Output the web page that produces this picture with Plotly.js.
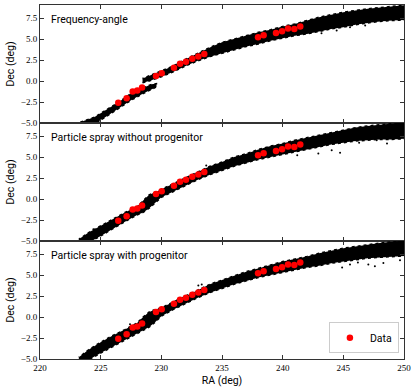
<!DOCTYPE html>
<html>
<head>
<meta charset="utf-8">
<script src="https://cdn.plot.ly/plotly-3.0.1.min.js"></script>
<style>
  html, body { margin: 0; padding: 0; background: #fff; }
  #chart { width: 416px; height: 389px; }
</style>
</head>
<body>
<div id="chart"></div>
<script>
// observed stream track (red points)
const dataRa = [226.45, 227.14, 227.64, 228.02, 228.41, 229.56, 230.03, 231.04, 231.54, 232.03,
  232.55, 233.05, 233.54, 237.97, 238.43, 239.45, 239.95, 240.44, 240.96, 241.45];
const dataDec = [-2.6, -2.05, -1.25, -1.12, -0.78, 0.6, 0.93, 1.58, 2.06, 2.3,
  2.65, 2.93, 3.22, 5.22, 5.45, 5.72, 5.93, 6.24, 6.2, 6.48];
const dataErr = [0.15, 0.15, 0.15, 0.15, 0.15, 0.15, 0.15, 0.15, 0.15, 0.15,
  0.15, 0.15, 0.15, 0.15, 0.15, 0.15, 0.15, 0.15, 0.15, 0.15];

// frequency-angle model: two pieces of the stream (RA, lower / upper Dec edge)
const faLeadRa = [223.3, 224.5, 225.5, 226.5, 227.5, 228.5, 229.2, 229.6];
const faLeadLo = [-5.7, -5.1, -4.2, -3.2, -2.3, -1.5, -1.0, -0.7];
const faLeadHi = [-4.9, -4.3, -3.4, -2.5, -1.5, -0.8, -0.4, -0.3];
const faTrailRa = [228.45, 229, 230, 231, 232, 233, 234, 235, 236, 237, 238, 239,
  240, 241, 242, 243, 244, 245, 246, 247, 248, 249, 250.5];
const faTrailLo = [-0.2, 0.0, 0.5, 1.1, 1.8, 2.4, 2.9, 3.3, 3.7, 4.1, 4.4, 4.8,
  5.1, 5.4, 5.6, 5.9, 6.2, 6.4, 6.7, 6.9, 7.1, 7.2, 7.3];
const faTrailHi = [0.3, 0.6, 1.2, 1.8, 2.6, 3.3, 4.0, 4.6, 5.0, 5.4, 5.8, 6.1,
  6.5, 6.8, 7.2, 7.6, 7.9, 8.2, 8.4, 8.6, 8.8, 8.9, 9.1];
const faOutRa = [244.45, 245.55, 243.2, 246.8];
const faOutDec = [6.0, 6.4, 5.7, 6.6];

// particle spray without progenitor
const spRa = [223.2, 224, 225, 226, 227, 228, 228.5, 229, 229.5, 230, 231, 232, 233, 234,
  235, 236, 237, 238, 239, 240, 241, 242, 243, 244, 245, 246, 247, 248, 249, 250.5];
const spLo = [-5.6, -5.2, -4.4, -3.5, -2.7, -1.9, -1.6, -1.1, -0.4, 0.2, 0.9, 1.6, 2.3, 2.9,
  3.4, 3.9, 4.3, 4.7, 5.0, 5.3, 5.6, 5.9, 6.2, 6.5, 6.7, 6.9, 7.0, 7.1, 7.1, 7.2];
const spHi = [-4.8, -4.0, -3.2, -2.4, -1.6, -0.9, -0.2, 0.5, 0.8, 1.1, 1.8, 2.5, 3.2, 3.9,
  4.4, 5.0, 5.4, 5.9, 6.3, 6.6, 7.0, 7.3, 7.6, 7.9, 8.2, 8.5, 8.7, 8.9, 9.0, 9.2];
const spOutRa = [242.94, 244.04, 244.73, 247.75, 249.67, 241.2, 224.4, 233.7, 248.6, 246.3];
const spOutDec = [5.42, 5.81, 5.5, 7.0, 7.2, 5.2, -3.6, 4.0, 6.6, 6.7];

// particle spray with progenitor
const sppRa = [223.2, 224, 225, 226, 227, 228, 228.5, 229, 229.5, 230, 231, 232, 233, 234,
  235, 236, 237, 238, 239, 240, 241, 242, 243, 244, 245, 246, 247, 248, 249, 250.5];
const sppLo = [-5.6, -5.1, -4.3, -3.5, -2.7, -1.9, -1.6, -1.2, -0.6, 0.1, 0.9, 1.6, 2.3, 2.9,
  3.4, 3.9, 4.3, 4.7, 5.0, 5.3, 5.6, 5.9, 6.1, 6.4, 6.6, 6.8, 7.0, 7.1, 7.2, 7.3];
const sppHi = [-4.8, -3.9, -3.0, -2.2, -1.5, -0.7, 0.0, 0.6, 0.9, 1.1, 1.8, 2.5, 3.2, 3.9,
  4.4, 4.9, 5.4, 5.8, 6.2, 6.6, 6.9, 7.2, 7.6, 7.9, 8.2, 8.4, 8.6, 8.8, 9.0, 9.2];
const sppOutRa = [247.06, 247.6, 248.3, 249.67, 245.55, 246.2, 233.05, 233.33, 227.42, 244.9];
const sppOutDec = [6.24, 6.04, 6.44, 6.75, 6.24, 6.5, 3.76, 3.88, -0.86, 5.9];

const panelTitles = ["Frequency-angle", "Particle spray without progenitor", "Particle spray with progenitor"];
const xTicks = [220, 225, 230, 235, 240, 245, 250];
const yTicks = [-5, -2.5, 0, 2.5, 5, 7.5];

function bandTrace(ra, lo, hi, xa, ya) {
  return {
    type: "scatter",
    mode: "lines",
    x: ra.concat(ra.slice().reverse()),
    y: lo.concat(hi.slice().reverse()),
    fill: "toself",
    fillcolor: "#000",
    line: { color: "#000", width: 1.5, dash: "dot" },
    hoverinfo: "skip",
    showlegend: false,
    xaxis: xa,
    yaxis: ya,
  };
}

function outlierTrace(ra, dec, xa, ya) {
  return {
    type: "scatter",
    mode: "markers",
    x: ra,
    y: dec,
    marker: { size: 2, color: "#000" },
    hoverinfo: "skip",
    showlegend: false,
    xaxis: xa,
    yaxis: ya,
  };
}

function dataTrace(xa, ya, show) {
  return {
    type: "scatter",
    mode: "markers",
    name: "Data",
    x: dataRa,
    y: dataDec,
    error_y: { type: "data", array: dataErr, color: "#ff0000", thickness: 1.5, width: 0 },
    marker: { size: 6.5, color: "#ff0000" },
    showlegend: show,
    xaxis: xa,
    yaxis: ya,
  };
}

const traces = [
  bandTrace(faLeadRa, faLeadLo, faLeadHi, "x", "y"),
  bandTrace(faTrailRa, faTrailLo, faTrailHi, "x", "y"),
  outlierTrace(faOutRa, faOutDec, "x", "y"),
  dataTrace("x", "y", false),
  bandTrace(spRa, spLo, spHi, "x2", "y2"),
  outlierTrace(spOutRa, spOutDec, "x2", "y2"),
  dataTrace("x2", "y2", false),
  bandTrace(sppRa, sppLo, sppHi, "x3", "y3"),
  outlierTrace(sppOutRa, sppOutDec, "x3", "y3"),
  dataTrace("x3", "y3", true),
];

const tickFont = { family: "Liberation Serif, DejaVu Serif, serif", size: 9, color: "#000" };
const labelFont = { family: "Roboto, Lato, sans-serif", size: 10.5, color: "#000" };

function xAxis(anchor, showLabels) {
  return {
    range: [220, 250],
    anchor: anchor,
    tickvals: xTicks,
    ticks: "inside",
    ticklen: 4,
    tickcolor: "#333",
    showticklabels: showLabels,
    tickfont: tickFont,
    showgrid: false,
    zeroline: false,
    showline: true,
    linecolor: "#333",
    linewidth: 1,
    mirror: "ticks",
  };
}

function yAxis(anchor, domain) {
  return {
    range: [-5, 9.05],
    domain: domain,
    anchor: anchor,
    tickvals: yTicks,
    tickformat: ".1f",
    ticks: "inside",
    ticklen: 4,
    tickcolor: "#333",
    tickfont: tickFont,
    showgrid: false,
    zeroline: false,
    showline: true,
    linecolor: "#333",
    linewidth: 1,
    mirror: "ticks",
    title: { text: "Dec (deg)", font: labelFont, standoff: 4 },
  };
}

const layout = {
  width: 416,
  height: 389,
  margin: { l: 40, r: 12, t: 5, b: 30 },
  paper_bgcolor: "#fff",
  plot_bgcolor: "#fff",
  showlegend: true,
  legend: {
    x: 0.986, y: 0.016, xanchor: "right", yanchor: "bottom",
    bgcolor: "#fff", bordercolor: "#ccc", borderwidth: 1,
    font: labelFont, itemwidth: 30,
  },
  xaxis: xAxis("y", false),
  xaxis2: xAxis("y2", false),
  xaxis3: Object.assign(xAxis("y3", true), { title: { text: "RA (deg)", font: labelFont, standoff: 4 } }),
  yaxis: yAxis("x", [2 / 3, 1]),
  yaxis2: yAxis("x2", [1 / 3, 2 / 3]),
  yaxis3: yAxis("x3", [0, 1 / 3]),
  annotations: panelTitles.map((t, i) => ({
    text: t,
    xref: "x" + (i === 0 ? "" : i + 1) + " domain",
    yref: "y" + (i === 0 ? "" : i + 1) + " domain",
    x: 0.025, y: 0.95, xanchor: "left", yanchor: "top",
    showarrow: false,
    font: labelFont,
  })),
};

Plotly.newPlot("chart", traces, layout, { displayModeBar: false, staticPlot: true });
</script>
</body>
</html>
